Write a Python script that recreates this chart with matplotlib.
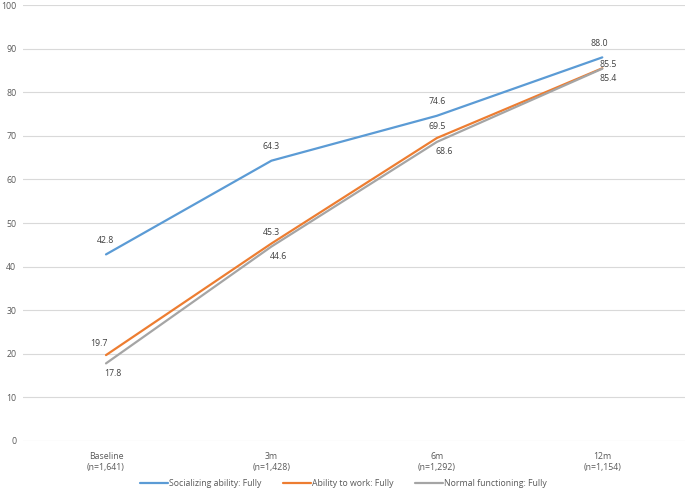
import matplotlib
matplotlib.use("Agg")
import matplotlib.pyplot as plt

categories = ["Baseline\n(n=1,641)", "3m\n(n=1,428)", "6m\n(n=1,292)", "12m\n(n=1,154)"]
socializing = [42.8, 64.3, 74.6, 88.0]
work = [19.7, 45.3, 69.5, 85.5]
normal = [17.8, 44.6, 68.6, 85.4]
series_names = ["Socializing ability: Fully", "Ability to work: Fully", "Normal functioning: Fully"]
colors = ["#5B9BD5", "#ED7D31", "#A5A5A5"]

plt.rcParams['font.family'] = ['Open Sans', 'DejaVu Sans']
fig = plt.figure(figsize=(6.85, 4.92), dpi=100)
ax = fig.add_axes([0.034, 0.1037, 0.966, 0.886])

x = list(range(len(categories)))
for vals, name, c in zip([socializing, work, normal], series_names, colors):
    ax.plot(x, vals, color=c, lw=1.6, label=name, solid_capstyle='round')

txt = dict(fontsize=6.3, color="#404040", ha="center", va="center")
for i, v in enumerate(socializing):
    ax.annotate(f"{v:.1f}", (i, v), xytext=(-2 if i == 3 else 0, 10), textcoords="offset points", **txt)
for i, v in enumerate(work):
    dx = -5 if i == 0 else (4 if i == 3 else 0)
    dy = 8 if i != 3 else 3
    ax.annotate(f"{v:.1f}", (i, v), xytext=(dx, dy), textcoords="offset points", **txt)
for i, v in enumerate(normal):
    dx = 5 if i < 3 else 4
    dy = -7 if i != 3 else -7
    ax.annotate(f"{v:.1f}", (i, v), xytext=(dx, dy), textcoords="offset points", **txt)

ax.set_xlim(-0.5, 3.5)
ax.set_ylim(0, 100)
ax.set_yticks(range(0, 101, 10))
ax.set_xticks(x)
ax.set_xticklabels(categories, linespacing=1.25)
ax.grid(axis='y', color="#D9D9D9", lw=0.8)
ax.set_axisbelow(True)
for s in ax.spines.values():
    s.set_visible(False)
ax.tick_params(axis='both', length=0, labelsize=6.3, labelcolor="#595959")
ax.tick_params(axis='x', pad=8)
ax.tick_params(axis='y', pad=5)

ax.legend(loc='center', bbox_to_anchor=(0.5 - 0.016, -0.097), ncol=3, frameon=False,
          fontsize=6.3, labelcolor="#595959", handlelength=3.2, handletextpad=0.1,
          columnspacing=2.5)

fig.savefig("out.png", dpi=100)
